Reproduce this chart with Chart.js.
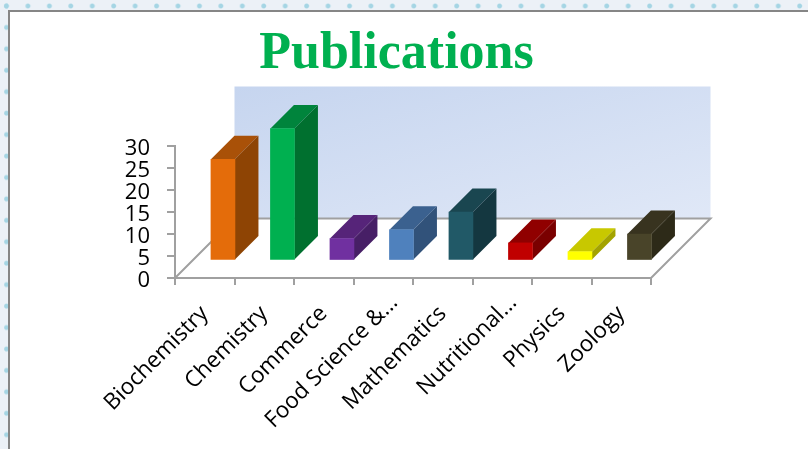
<!DOCTYPE html>
<html>
<head>
<meta charset="utf-8">
<title>Publications</title>
<script src="https://cdn.jsdelivr.net/npm/chart.js@4/dist/chart.umd.min.js"></script>
<style>
html, body { margin: 0; height: 100%; overflow: hidden; background: #ecf1f7; }
/* dotted grid that shows around the slide edge */
#dotsTop { position: absolute; left: 0; top: 0; width: 808px; height: 11px;
	background: radial-gradient(circle at 6.5px 6px, #a5d5e4 0, #a5d5e4 1.8px, transparent 3px) 0 0 / 21.45px 12px repeat-x; }
#dotsLeft { position: absolute; left: 0; top: 0; width: 8px; height: 449px;
	background: radial-gradient(circle at 6.5px 6px, #a5d5e4 0, #a5d5e4 1.8px, transparent 3px) 0 0 / 12px 21.45px repeat-y; }
#frame { position: absolute; left: 8px; top: 10px; right: 0; bottom: 0; background: #fff;
	border-left: 2px solid #868686; border-top: 2px solid #868686; }
#publicationsChart { position: absolute; left: 0; top: 0; }
</style>
</head>
<body>
<div id="dotsTop"></div>
<div id="dotsLeft"></div>
<div id="frame"></div>
<canvas id="publicationsChart" width="808" height="449"></canvas>
<script>
var categories = ['Biochemistry', 'Chemistry', 'Commerce', 'Food Science &...', 'Mathematics', 'Nutritional...', 'Physics', 'Zoology'];
var publications = [23, 30, 5, 7, 11, 4, 2, 6];
var yTicks = [0, 5, 10, 15, 20, 25, 30];

var frontColors = ['#e46c0a', '#00b050', '#7030a0', '#4f81bd', '#215967', '#c00000', '#ffff00', '#494429'];
var topColors = ['#a95108', '#00843c', '#562479', '#3b618f', '#1a4650', '#900000', '#c8c800', '#38331f'];
var sideColors = ['#8e4404', '#00702f', '#471f66', '#31527a', '#143740', '#7a0000', '#a3a300', '#2d2a18'];

var FLOOR_DEPTH = 59.5; // how far the back wall sits up and right of the axes
var BAR_SHIFT = 18.2;   // bars stand this far in from the front edge of the floor
var BAR_LIFT = 17.5;
var BAR_DEPTH = 23.5;

function face(ctx, color, points) {
	ctx.fillStyle = color;
	ctx.beginPath();
	ctx.moveTo(points[0][0], points[0][1]);
	for (var i = 1; i < points.length; i++) {
		ctx.lineTo(points[i][0], points[i][1]);
	}
	ctx.closePath();
	ctx.fill();
}

var pseudo3d = {
	id: 'pseudo3d',
	afterLayout: function (chart) {
		// the title is centred on the slide, not on the plot
		chart.titleBlock.left = 0;
		chart.titleBlock.right = 793;
	},
	beforeDraw: function (chart) {
		// nudge the value labels down to sit as they do in the original
		chart.scales.y.getLabelItems().forEach(function (item) {
			item.options.translation[1] += 3;
		});
		// shortened labels run further up the diagonal than the others
		chart.scales.x.getLabelItems().forEach(function (item) {
			if (/\.\.\.$/.test(item.label)) {
				item.options.translation[0] += 11;
				item.options.translation[1] -= 11;
			}
		});
	},
	beforeDatasetsDraw: function (chart) {
		var ctx = chart.ctx;
		var a = chart.chartArea;
		var d = FLOOR_DEPTH;
		var w = a.right - a.left;
		var h = a.bottom - a.top;

		// corner to corner shading, top right and bottom left come out equal
		var t = 2 * w * h / (w * w + h * h);
		var wall = ctx.createLinearGradient(a.left + d, a.top - d, a.left + d + t * h, a.top - d + t * w);
		wall.addColorStop(0, '#c6d5ef');
		wall.addColorStop(1, '#e0e8f7');
		ctx.fillStyle = wall;
		ctx.fillRect(a.left + d, a.top - d, w, h);

		ctx.save();
		ctx.strokeStyle = '#a0a0a0';
		ctx.lineWidth = 2;
		ctx.beginPath();
		ctx.moveTo(a.left, a.bottom);
		ctx.lineTo(a.left + d, a.bottom - d);
		ctx.lineTo(a.right + d, a.bottom - d);
		ctx.lineTo(a.right, a.bottom);
		ctx.stroke();
		ctx.restore();
	},
	beforeDatasetDraw: function (chart, args) {
		var ctx = chart.ctx;
		ctx.save();
		ctx.translate(BAR_SHIFT, -BAR_LIFT);
		chart.getDatasetMeta(args.index).data.forEach(function (bar, i) {
			var left = bar.x - bar.width / 2;
			var right = bar.x + bar.width / 2;
			var d = BAR_DEPTH;
			face(ctx, topColors[i], [[left, bar.y], [right, bar.y], [right + d, bar.y - d], [left + d, bar.y - d]]);
			face(ctx, sideColors[i], [[right, bar.y], [right + d, bar.y - d], [right + d, bar.base - d], [right, bar.base]]);
		});
	},
	afterDatasetDraw: function (chart) {
		chart.ctx.restore();
	}
};

new Chart(document.getElementById('publicationsChart'), {
	type: 'bar',
	plugins: [pseudo3d],
	data: {
		labels: categories,
		datasets: [{
			label: 'Publications',
			data: publications,
			backgroundColor: frontColors,
			barThickness: 24,
			clip: false
		}]
	},
	options: {
		responsive: false,
		animation: false,
		layout: { padding: { left: 0, right: 157, top: 0, bottom: 0 } },
		plugins: {
			legend: { display: false },
			tooltip: { enabled: false },
			title: {
				display: true,
				text: 'Publications',
				color: '#00b050',
				font: { family: '"Liberation Serif"', size: 52, weight: 'bold', lineHeight: 1.2 },
				padding: { top: 23.5, bottom: 60.1 }
			}
		},
		scales: {
			x: {
				afterFit: function (scale) { scale.height = 171; },
				border: { color: '#a0a0a0', width: 2 },
				grid: { offset: true, drawOnChartArea: false, color: '#a0a0a0', lineWidth: 2, tickLength: 7 },
				ticks: {
					autoSkip: false,
					minRotation: 45,
					maxRotation: 45,
					padding: 15.5,
					color: '#000',
					font: { family: '"Open Sans"', size: 22.5 }
				}
			},
			y: {
				min: 0,
				max: 30,
				afterFit: function (scale) { scale.width = 175; },
				afterBuildTicks: function (scale) {
					scale.ticks = yTicks.map(function (v) { return { value: v }; });
				},
				border: { color: '#a0a0a0', width: 2 },
				grid: { drawOnChartArea: false, color: '#a0a0a0', lineWidth: 2, tickLength: 8 },
				ticks: {
					autoSkip: false,
					padding: 17,
					color: '#000',
					font: { family: '"Open Sans"', size: 22 }
				}
			}
		}
	}
});
</script>
</body>
</html>
